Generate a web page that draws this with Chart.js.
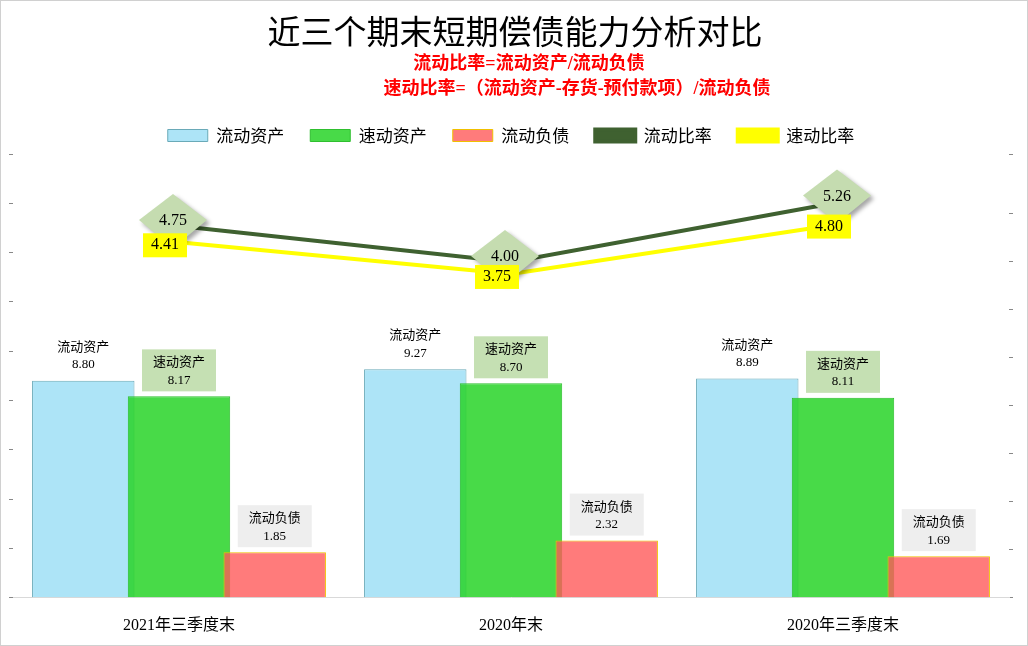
<!DOCTYPE html>
<html>
<head>
<meta charset="utf-8">
<script src="https://cdn.jsdelivr.net/npm/chart.js@4"></script>
<style>
  body { margin: 0; background: #fff; }
  #wrap { width: 1026px; height: 644px; border: 1px solid #d0d0d0; position: relative; }
</style>
</head>
<body>
<div id="wrap"><canvas id="myChart" width="1026" height="644"></canvas></div>
<script>
let ctx = document.getElementById('myChart');

let LABELS = ['2021年三季度末', '2020年末', '2020年三季度末']
let CURRENT_ASSETS = [8.80, 9.27, 8.89]
let QUICK_ASSETS = [8.17, 8.70, 8.11]
let CURRENT_LIAB = [1.85, 2.32, 1.69]
let CURRENT_RATIO = [4.75, 4.00, 5.26]
let QUICK_RATIO = [4.41, 3.75, 4.80]

const CJK = '"Noto Sans CJK SC", sans-serif'
const SERIF = '"Liberation Serif", "Noto Sans CJK SC", serif'

// title + red formula lines
let headerPlugin = {
    id: 'header',
    beforeDraw(chart) {
        let c = chart.ctx
        c.save()
        c.textAlign = 'center'
        c.textBaseline = 'middle'
        c.fillStyle = '#000'
        c.font = '33px ' + CJK
        c.fillText('近三个期末短期偿债能力分析对比', 514, 30)
        c.fillStyle = '#ff0000'
        c.font = 'bold 18px ' + SERIF
        c.fillText('流动比率=流动资产/流动负债', 528, 63)
        c.fillText('速动比率=（流动资产-存货-预付款项）/流动负债', 576, 88)
        c.restore()
    }
}

function box(c, x, y, w, h, color) {
    c.fillStyle = color
    c.fillRect(x - w / 2, y - h / 2, w, h)
}

// draw datasets in index order so later bars overlap earlier ones, then the labels
let drawPlugin = {
    id: 'drawOrder',
    beforeDatasetsDraw(chart) {
        let c = chart.ctx
        let a = chart.chartArea
        for (let d = 0; d < chart.data.datasets.length; d++) {
            c.save()
            c.beginPath()
            c.rect(a.left, a.top - 40, a.right - a.left, a.bottom - a.top + 40)
            c.clip()
            chart.getDatasetMeta(d).controller.draw()
            c.restore()
        }
        drawLabels(chart)
        return false
    }
}

function drawLabels(chart) {
    let c = chart.ctx
    c.save()
    c.textAlign = 'center'
    c.textBaseline = 'middle'
    let names = ['流动资产', '速动资产', '流动负债']
    let bgs = [null, '#c5e0b3', '#eeeeee']
    for (let d = 0; d < 3; d++) {
        chart.getDatasetMeta(d).data.forEach((bar, i) => {
            let v = chart.data.datasets[d].data[i]
            let cy = bar.y - 26
            if (bgs[d]) box(c, bar.x, cy, 74, 42, bgs[d])
            c.fillStyle = '#000'
            c.font = '13px ' + CJK
            c.fillText(names[d], bar.x, cy - 9)
            c.font = '13px ' + SERIF
            c.fillText(v.toFixed(2), bar.x, cy + 10)
        })
    }
    // current ratio: diamonds
    chart.getDatasetMeta(3).data.forEach((p, i) => {
        c.save()
        c.shadowColor = 'rgba(0,0,0,0.35)'
        c.shadowOffsetX = 3
        c.shadowOffsetY = 3
        c.shadowBlur = 4
        c.fillStyle = '#c5dcb0'
        c.beginPath()
        c.moveTo(p.x - 6, p.y - 32)
        c.lineTo(p.x + 28, p.y - 6)
        c.lineTo(p.x - 6, p.y + 22)
        c.lineTo(p.x - 40, p.y - 6)
        c.closePath()
        c.fill()
        c.restore()
        c.fillStyle = '#000'
        c.font = '16px ' + SERIF
        c.fillText(CURRENT_RATIO[i].toFixed(2), p.x - 6, p.y - 5)
    })
    // quick ratio: yellow boxes
    chart.getDatasetMeta(4).data.forEach((p, i) => {
        box(c, p.x - 14, p.y + 3, 44, 24, '#ffff00')
        c.fillStyle = '#000'
        c.font = '16px ' + SERIF
        c.fillText(QUICK_RATIO[i].toFixed(2), p.x - 14, p.y + 3)
    })
    c.restore()
}

let myChart = new Chart(ctx, {
    type: 'bar',
    data: {
        labels: LABELS,
        datasets: [
            { label: '流动资产', data: CURRENT_ASSETS, backgroundColor: '#ade4f7', borderColor: '#6aaab8', borderWidth: 1, yAxisID: 'y' },
            { label: '速动资产', data: QUICK_ASSETS, backgroundColor: 'rgba(40,212,40,0.85)', borderColor: '#2fbf2f', borderWidth: 1, yAxisID: 'y' },
            { label: '流动负债', data: CURRENT_LIAB, backgroundColor: 'rgba(255,90,90,0.8)', borderColor: '#f0c000', borderWidth: 1, yAxisID: 'y' },
            { type: 'line', label: '流动比率', data: CURRENT_RATIO, borderColor: '#3f6130', backgroundColor: '#3f6130', borderWidth: 4, pointRadius: 0, yAxisID: 'y1' },
            { type: 'line', label: '速动比率', data: QUICK_RATIO, borderColor: '#ffff00', backgroundColor: '#ffff00', borderWidth: 4, pointRadius: 0, yAxisID: 'y1' }
        ]
    },
    options: {
        responsive: false,
        animation: false,
        layout: { padding: { top: 100, left: 8, right: 14, bottom: 0 } },
        datasets: { bar: { categoryPercentage: 0.865, barPercentage: 1.07 } },
        plugins: {
            legend: {
                position: 'top',
                labels: {
                    font: { size: 17, family: CJK },
                    color: '#000',
                    boxWidth: 40,
                    boxHeight: 12,
                    padding: 26
                }
            },
            tooltip: { enabled: false }
        },
        scales: {
            x: {
                grid: { display: false },
                border: { color: '#d9d9d9' },
                ticks: { color: '#000', font: { size: 16, family: SERIF }, padding: 10 }
            },
            y: {
                min: 0, max: 18,
                ticks: { stepSize: 2, display: false },
                grid: { drawOnChartArea: false, tickLength: 4, color: '#888' },
                border: { display: false }
            },
            y1: {
                position: 'right',
                min: -3, max: 6.25,
                ticks: { display: false },
                grid: { drawOnChartArea: false, tickLength: 4, color: '#888' },
                border: { display: false }
            }
        }
    },
    plugins: [headerPlugin, drawPlugin]
});
</script>
</body>
</html>
